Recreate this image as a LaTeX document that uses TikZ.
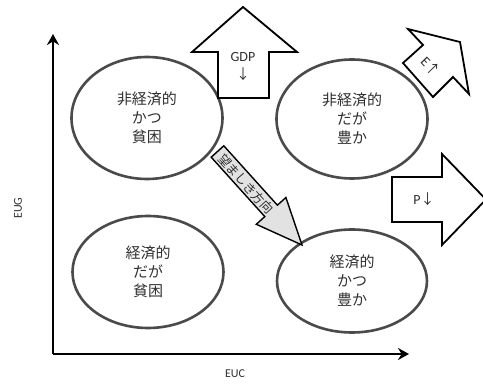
\documentclass[tikz,border=0pt]{standalone}
\usepackage{fontspec}
\setmainfont{Carlito}
\newfontfamily\jp{Noto Sans CJK JP}
\usetikzlibrary{shapes.geometric,arrows.meta}
\definecolor{ellc}{HTML}{4A4A4A}
\definecolor{txtc}{HTML}{303030}
\definecolor{arrfill}{HTML}{E2E2E2}
\tikzset{
  ell/.style={ellipse, draw=ellc, line width=2.6pt, inner sep=0pt, fill=white,
    font=\jp\fontsize{15}{19}\selectfont, text=txtc, align=center},
  blockarrow/.style={draw=black, line width=1.8pt, fill=white, line join=miter},
  axis/.style={line width=2.6pt, -{Stealth[length=11pt,width=12pt]}},
  lbl/.style={font=\fontsize{12}{14}\selectfont, text=txtc, inner sep=0pt},
  arrlbl/.style={font=\fontsize{14}{16}\selectfont, text=txtc, inner sep=0pt, align=center},
}
\begin{document}
\begin{tikzpicture}[x=1pt,y=-1pt]
\useasboundingbox (0,0) rectangle (483,387);
% axes
\coordinate (o) at (53,354);
\coordinate (ytop) at (53,34);
\coordinate (xend) at (409,354);
\draw[axis] (o) -- (ytop);
\draw[axis] (o) -- (xend);
\node[lbl, rotate=90] (eug) at (18,208) {EUG};
\node[lbl] (euc) at (235,374) {EUC};
% ellipses
\node[ell, minimum width=151pt, minimum height=122pt] (tl) at (147,118) {非経済的\\かつ\\貧困};
\node[ell, minimum width=151pt, minimum height=119pt] (tr) at (352,119) {非経済的\\だが\\豊か};
\node[ell, minimum width=151pt, minimum height=112pt] (bl) at (148,272) {経済的\\だが\\貧困};
\node[ell, minimum width=150pt, minimum height=103pt] (br) at (352,281) {経済的\\かつ\\豊か};
% GDP up arrow
\draw[blockarrow] (243,7) -- (297,52) -- (269,52) -- (269,98) -- (218,98) -- (218,52) -- (192,52) -- cycle;
\node[arrlbl] (gdp) at (243,67) {GDP\\[2pt]{\jp ↓}};
% E arrow (rotated)
\draw[blockarrow] (408,29) -- (460,42) -- (469,94) -- (453,77) -- (433,97) -- (403,63) -- (423,45) -- cycle;
\node[arrlbl, rotate=-46] (e) at (431,66) {E{\jp ↑}};
% P arrow
\draw[blockarrow] (392,177) -- (442,177) -- (442,154) -- (486,199.5) -- (442,245) -- (442,222) -- (392,222) -- cycle;
\node[arrlbl] (p) at (424,199) {P{\jp ↓}};
% desired direction arrow
\draw[draw=black, line width=1.4pt, fill=arrfill, line join=miter]
  (223.8,145.8) -- (277.4,205.2) -- (285.9,197.5) -- (302,245) -- (256.3,224.3) -- (264.8,216.6) -- (211.2,157.2) -- cycle;
\node[font=\jp\fontsize{12.5}{14}\selectfont, text=txtc, rotate=-48, inner sep=0pt] (dir) at (246,184) {望ましき方向};
\end{tikzpicture}
\end{document}
